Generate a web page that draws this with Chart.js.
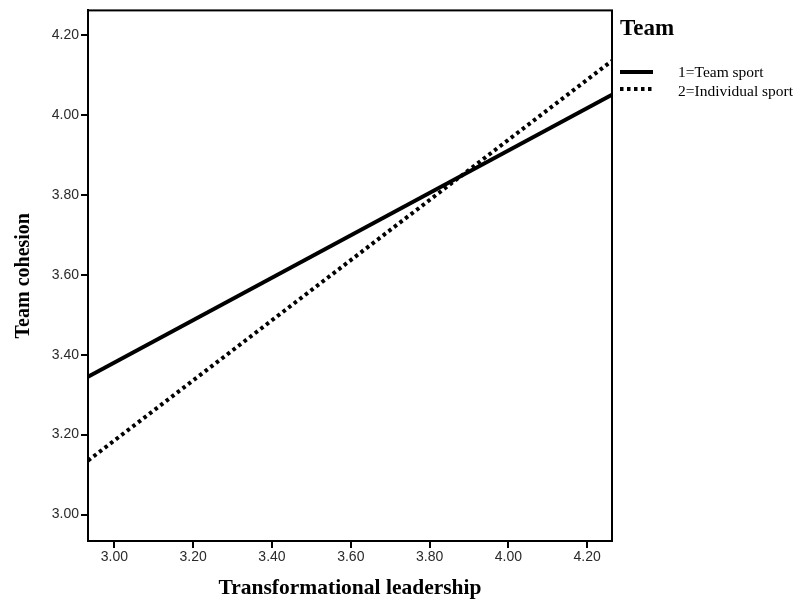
<!DOCTYPE html>
<html>
<head>
<meta charset="utf-8">
<script src="https://cdn.jsdelivr.net/npm/chart.js@4"></script>
<style>
    body { margin: 0; background: #fff; }
</style>
</head>
<body>
<canvas id="myChart" width="797" height="599"></canvas>
<script>
// x values where the fit lines meet the plot frame
const xEnds = [2.933, 4.263];
const teamSport = [3.345, 4.05];
const individualSport = [3.135, 4.135];
const xTicks = [3.00, 3.20, 3.40, 3.60, 3.80, 4.00, 4.20];
const yTicks = [3.00, 3.20, 3.40, 3.60, 3.80, 4.00, 4.20];
const seriesNames = ['1=Team sport', '2=Individual sport'];
const legendTitle = 'Team';

function toPoints(ys) {
    return xEnds.map((x, i) => ({ x: x, y: ys[i] }));
}

const frameAndLegend = {
    id: 'frameAndLegend',
    afterDraw(chart) {
        const ctx = chart.ctx;
        const a = chart.chartArea;
        ctx.save();
        ctx.strokeStyle = '#000';
        ctx.lineWidth = 2;
        ctx.strokeRect(a.left, a.top, a.right - a.left, a.bottom - a.top);

        const lx = a.right + 8;
        ctx.fillStyle = '#000';
        ctx.font = 'bold 23px "Liberation Serif"';
        ctx.textBaseline = 'middle';
        ctx.fillText(legendTitle, lx, 29);

        const ds = chart.data.datasets;
        const lineRows = [72, 89];
        const textRows = [73, 92];
        ctx.font = '15.5px "Liberation Serif"';
        for (let i = 0; i < ds.length; i++) {
            ctx.beginPath();
            ctx.lineWidth = 4;
            ctx.lineCap = 'butt';
            ctx.setLineDash(ds[i].borderDash || []);
            ctx.moveTo(lx, lineRows[i]);
            ctx.lineTo(lx + 33, lineRows[i]);
            ctx.stroke();
            ctx.setLineDash([]);
            ctx.fillText(seriesNames[i], lx + 58, textRows[i]);
        }
        ctx.restore();
    }
};

var ctx = document.getElementById('myChart').getContext('2d');
new Chart(ctx, {
    type: 'scatter',
    data: {
        datasets: [{
            label: seriesNames[0],
            data: toPoints(teamSport),
            showLine: true,
            borderColor: '#000',
            borderWidth: 4,
            pointRadius: 0,
            fill: false
        }, {
            label: seriesNames[1],
            data: toPoints(individualSport),
            showLine: true,
            borderColor: '#000',
            borderWidth: 4,
            borderDash: [3.5, 3.5],
            pointRadius: 0,
            fill: false
        }]
    },
    options: {
        responsive: false,
        animation: false,
        layout: { padding: { top: 10, right: 185, left: 0, bottom: 0 } },
        plugins: {
            legend: { display: false },
            tooltip: { enabled: false }
        },
        scales: {
            x: {
                type: 'linear',
                min: xEnds[0],
                max: xEnds[1],
                afterBuildTicks: (s) => { s.ticks = xTicks.map(v => ({ value: v })); },
                afterFit: (s) => { s.height = 58; },
                grid: { display: true, drawOnChartArea: false, drawTicks: true, tickLength: 7, color: '#000', lineWidth: 2 },
                border: { display: true, color: '#000', width: 2 },
                ticks: {
                    color: '#2a2a2a',
                    padding: 1,
                    font: { family: 'Liberation Sans', size: 14 },
                    callback: (v) => Number(v).toFixed(2)
                },
                title: {
                    display: true,
                    text: 'Transformational leadership',
                    color: '#000',
                    font: { family: 'Liberation Serif', size: 21.5, weight: 'bold', lineHeight: 1.0 },
                    padding: { top: 0, bottom: 0 }
                }
            },
            y: {
                type: 'linear',
                min: 2.934,
                max: 4.261,
                afterBuildTicks: (s) => { s.ticks = yTicks.map(v => ({ value: v })); },
                afterFit: (s) => { s.width = 88; },
                grid: { display: true, drawOnChartArea: false, drawTicks: true, tickLength: 7, color: '#000', lineWidth: 2 },
                border: { display: true, color: '#000', width: 2 },
                ticks: {
                    color: '#2a2a2a',
                    padding: 2,
                    font: { family: 'Liberation Sans', size: 14 },
                    callback: (v) => Number(v).toFixed(2)
                },
                title: {
                    display: true,
                    text: 'Team cohesion',
                    color: '#000',
                    font: { family: 'Liberation Serif', size: 20, weight: 'bold' },
                    padding: { top: 12, bottom: 0 }
                }
            }
        }
    },
    plugins: [frameAndLegend]
});
</script>
</body>
</html>
